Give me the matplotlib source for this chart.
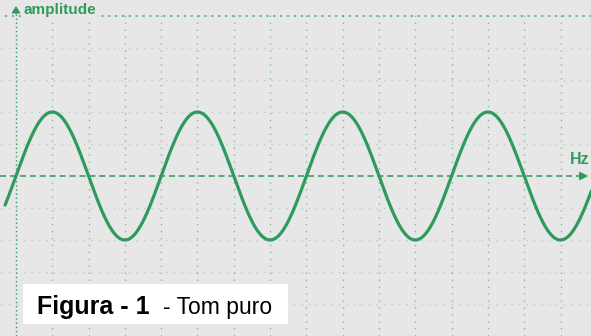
import numpy as np
import matplotlib.pyplot as plt

# Valores (unidades = divisões da grade)
amplitude = 2.0        # pico a 2 divisões do eixo
periodo = 4.0          # um ciclo a cada 4 divisões
fase = 0.0             # cruza o zero subindo na origem
x_inicio, x_fim = -0.30, 15.85
grade_x = list(range(1, 16))
grade_y = [-4, -3, -2, -1, 1, 2, 3, 4]
topo = 5.0

verde = "#2e9a5c"
fundo = "#e7e7e7"

fig = plt.figure(figsize=(5.91, 3.36), dpi=100)
fig.patch.set_facecolor(fundo)
ax = fig.add_axes([0, 0, 1, 1])
ax.set_facecolor(fundo)
ax.set_xlim(-0.44, 15.84)
ax.set_ylim(-5.0, 5.5)
ax.axis("off")

# grade pontilhada
for gx in grade_x:
    ax.plot([gx, gx], [-5.0, topo + 0.2], color=verde, lw=1.0,
            ls=(0, (1, 4)), alpha=0.55, zorder=1)
for gy in grade_y:
    ax.plot([-0.4, 15.84], [gy, gy], color=verde, lw=0.9,
            ls=(0, (1, 5)), alpha=0.3, zorder=1)
ax.plot([-0.3, 15.84], [topo, topo], color=verde, lw=1.1,
        ls=(0, (1.5, 3)), alpha=0.8, zorder=1)

# eixos
ax.plot([0, 0], [-5.0, 5.15], color=verde, lw=1.0, ls=(0, (1, 2)), zorder=2)
ax.annotate("", xy=(0, 5.4), xytext=(0, 5.0),
            arrowprops=dict(arrowstyle="-|>,head_width=0.25,head_length=0.4",
                            color=verde, lw=1.0))
ax.plot([-0.44, 15.5], [0, 0], color=verde, lw=1.1, ls=(0, (4, 2.5)), zorder=2)
ax.annotate("", xy=(15.84, 0), xytext=(15.5, 0),
            arrowprops=dict(arrowstyle="-|>,head_width=0.25,head_length=0.5",
                            color=verde, lw=1.0))
ax.text(0.2, 5.2, "amplitude", color=verde, fontsize=11, fontweight="bold",
        family="Liberation Sans", va="center", ha="left", zorder=3,
        bbox=dict(facecolor=fundo, edgecolor="none", pad=1.5))
ax.text(15.54, 0.53, "Hz", color=verde, fontsize=11.5, fontweight="bold",
        family="Liberation Sans", va="center", ha="center")

# tom puro
x = np.linspace(x_inicio, x_fim, 800)
y = amplitude * np.sin(2 * np.pi * x / periodo + fase)
ax.plot(x, y, color=verde, lw=2.3, solid_capstyle="round", zorder=3)

# legenda da figura
caixa = plt.Rectangle((23 / 591, 12 / 336), 265 / 591, 40 / 336,
                      transform=fig.transFigure, facecolor="white",
                      edgecolor="none", zorder=4)
fig.patches.append(caixa)
fig.text(37 / 591, 22 / 336, "Figura - 1", fontsize=18, fontweight="bold",
         family="Liberation Sans", color="black", va="baseline", zorder=5)
fig.text(163 / 591, 22 / 336, "- Tom puro", fontsize=16.5,
         family="Liberation Sans", color="black", va="baseline", zorder=5)

fig.savefig("out.png", dpi=100, facecolor=fundo)
